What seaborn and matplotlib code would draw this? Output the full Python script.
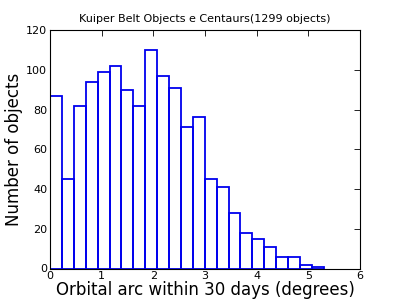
import numpy as np
import pandas as pd
import seaborn as sns
import matplotlib
matplotlib.use("Agg")
import matplotlib.pyplot as plt

# histogram counts per bin (23 bins from 0 to 5.3 degrees)
counts = [87, 45, 82, 94, 99, 102, 90, 82, 110, 97, 91, 71, 76,
          45, 41, 28, 18, 15, 11, 6, 6, 2, 1]
arc_min = 0.0
arc_max = 5.3

edges = np.linspace(arc_min, arc_max, len(counts) + 1)
centers = (edges[:-1] + edges[1:]) / 2
df = pd.DataFrame({"arc": centers, "n": counts})

sns.set_style("white", {"text.color": "black", "xtick.color": "black",
                        "ytick.color": "black", "axes.labelcolor": "black"})
plt.rcParams['font.family'] = ['DejaVu Sans']

fig = plt.figure(figsize=(4, 3), dpi=100)
ax = fig.add_axes([0.125, 0.105, 0.775, 0.795])
sns.histplot(data=df, x="arc", weights="n", bins=len(counts),
             binrange=(arc_min, arc_max), fill=False,
             color="#0000ee", linewidth=1.3, ax=ax)

ax.set_xlim(0, 6)
ax.set_ylim(0, 120)
ax.set_xticks(range(0, 7))
ax.set_yticks(range(0, 121, 20))
ax.tick_params(direction="in", labelsize=8, top=True, right=True,
               length=4, width=0.6, pad=2, colors="black")
ax.tick_params(axis="x", pad=1.5)
for s in ax.spines.values():
    s.set_color("black")
    s.set_linewidth(0.8)
ax.set_title("Kuiper Belt Objects e Centaurs(1299 objects)", fontsize=8,
             color="black")
ax.set_xlabel("Orbital arc within 30 days (degrees)", fontsize=12,
              labelpad=0, color="black")
ax.set_ylabel("Number of objects", fontsize=12, labelpad=2, color="black")

fig.savefig("out.png", dpi=100)
